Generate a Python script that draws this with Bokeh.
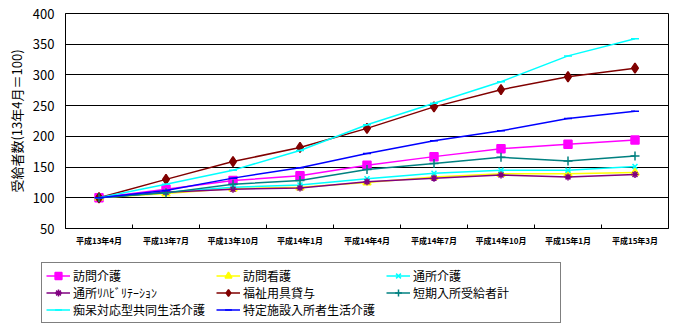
from bokeh.plotting import figure
from bokeh.models import FixedTicker, Legend, LegendItem, Range1d
from bokeh.layouts import column
from bokeh.embed import file_html
from bokeh.resources import INLINE

months = ["平成13年4月", "平成13年7月", "平成13年10月", "平成14年1月", "平成14年4月",
          "平成14年7月", "平成14年10月", "平成15年1月", "平成15年3月"]
y_ticks = [50, 100, 150, 200, 250, 300, 350, 400]

houmon_kaigo = [100, 114, 128, 136, 153, 167, 180, 187, 194]
houmon_kango = [100, 107, 115, 117, 125, 134, 139, 139, 141]
tsusho_kaigo = [100, 109, 117, 121, 131, 140, 145, 145, 151]
tsusho_riha = [100, 109, 114, 116, 126, 132, 137, 134, 138]
fukushi_yogu = [100, 130, 159, 182, 213, 248, 276, 297, 311]
tanki_nyusho = [100, 108, 122, 128, 146, 156, 166, 160, 168]
chiho_group = [100, 122, 145, 177, 219, 254, 289, 331, 359]
tokutei_shisetsu = [100, 112, 132, 149, 172, 193, 209, 229, 241]

series = [
    ("訪問介護", houmon_kaigo, "#FF00FF", "square", 8),
    ("訪問看護", houmon_kango, "#FFFF00", "triangle", 8),
    ("通所介護", tsusho_kaigo, "#00FFFF", "x", 7),
    ("通所ﾘﾊﾋﾞﾘﾃｰｼｮﾝ", tsusho_riha, "#800080", "asterisk", 7),
    ("福祉用具貸与", fukushi_yogu, "#800000", "diamond", 10),
    ("短期入所受給者計", tanki_nyusho, "#008080", "cross", 9),
    ("痴呆対応型共同生活介護", chiho_group, "#00FFFF", "dash", 8),
    ("特定施設入所者生活介護", tokutei_shisetsu, "#0000FF", "dash", 8),
]

JP = "Noto Sans CJK JP"

p = figure(width=679, height=255, output_backend="svg", toolbar_location=None,
           x_range=Range1d(0, len(months)), y_range=Range1d(50, 400),
           min_border_left=65, min_border_right=11, min_border_top=13,
           min_border_bottom=27)
p.outline_line_color = "black"
p.outline_line_width = 1
p.background_fill_color = "white"
p.border_fill_color = "white"

# legend-only figure (its ranges keep the data out of view)
lg = figure(frame_width=679, frame_height=77, output_backend="svg", toolbar_location=None,
            x_range=Range1d(100, 101), y_range=Range1d(0, 1),
            x_axis_location=None, y_axis_location=None,
            min_border_left=0, min_border_right=0, min_border_top=0,
            min_border_bottom=0)
lg.outline_line_color = None
lg.xgrid.grid_line_color = None
lg.ygrid.grid_line_color = None
lg.border_fill_color = "white"

xs = [i + 0.5 for i in range(len(months))]

items = []
for label, vals, color, marker, size in series:
    p.line(xs, vals, line_color=color, line_width=1.5)
    p.scatter(xs, vals, marker=marker, size=size, line_color=color,
              fill_color=color, line_width=1.5)
    lr = lg.line(xs, vals, line_color=color, line_width=1.5)
    mr = lg.scatter(xs, vals, marker=marker, size=size, line_color=color,
                    fill_color=color, line_width=1.5)
    items.append(LegendItem(label=label, renderers=[lr, mr]))

# x axis
p.xaxis.ticker = FixedTicker(ticks=xs, minor_ticks=list(range(1, len(months))))
p.xaxis.major_label_overrides = {x: m for x, m in zip(xs, months)}
p.xaxis.major_tick_in = 0
p.xaxis.major_tick_out = 0
p.xaxis.minor_tick_in = 4
p.xaxis.minor_tick_out = 0
p.xaxis.minor_tick_line_color = "black"
p.xaxis.axis_line_color = "black"
p.xaxis.major_label_text_font = JP
p.xaxis.major_label_text_font_size = "8px"
p.xaxis.major_label_text_font_style = "bold"
p.xaxis.major_label_text_color = "black"
p.xaxis.major_label_standoff = 6
p.xgrid.grid_line_color = None

# y axis
p.yaxis.ticker = FixedTicker(ticks=y_ticks)
p.yaxis.major_tick_in = 0
p.yaxis.major_tick_out = 0
p.yaxis.minor_tick_line_color = None
p.yaxis.axis_line_color = "black"
p.yaxis.major_label_text_font = JP
p.yaxis.major_label_text_font_size = "13px"
p.yaxis.major_label_text_color = "black"
p.yaxis.major_label_standoff = 11
p.yaxis.axis_label = "受給者数(13年4月＝100)"
p.yaxis.axis_label_text_font = JP
p.yaxis.axis_label_text_font_size = "13px"
p.yaxis.axis_label_text_font_style = "normal"
p.yaxis.axis_label_text_color = "black"
p.yaxis.axis_label_standoff = 4
p.ygrid.grid_line_color = "black"
p.ygrid.grid_line_width = 1

legend = Legend(items=items, location=(41, 9), orientation="horizontal", ncols=3,
                border_line_color="black", border_line_width=1,
                background_fill_color="white", background_fill_alpha=1,
                padding=4, spacing=0, margin=0,
                glyph_width=24, glyph_height=17, label_height=17,
                label_standoff=3, label_width=143,
                label_text_font=JP, label_text_font_size="12px",
                label_text_color="black")
lg.add_layout(legend, "center")

open("out.html", "w").write(file_html(column(p, lg, spacing=0), INLINE))
